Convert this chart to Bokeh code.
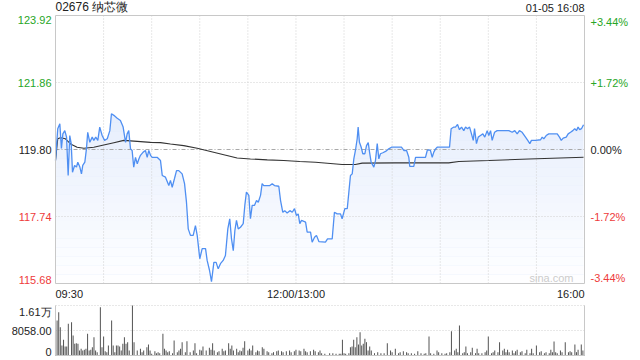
from bokeh.plotting import figure
from bokeh.models import Range1d
from bokeh.core.properties import value
from bokeh.embed import file_html
from bokeh.resources import INLINE
import numpy as np

FONT = "Liberation Sans"
RED = "#ee3b3b"
GREEN = "#27a627"
TXT = "#222222"
GRID = "#d0d0d0"
BORDER = "#c8c8c8"

# ---------------- data ----------------
title_text = "02676 纳芯微"
date_text = "01-05 16:08"
prev_close = 119.80
price_lo, price_hi = 115.68, 123.92

# trading minutes since 09:30 (lunch break removed: 150 = 12:00/13:00, 330 = 16:00)
price_t = [
    0, 1.4, 2.7, 3.7, 4.6, 5.8, 6.9, 7.9, 8.9, 9.8,
    10.6, 11.9, 13.1, 13.9, 15.2, 16.2, 17.0, 18.3, 19.3, 20.1,
    21.4, 22.9, 23.9, 25.1, 26.4, 27.6, 29.1, 30.6, 32.3, 33.9,
    34.9, 36.4, 38.5, 40.5, 42.2, 43.7, 44.7, 45.7, 46.8, 47.8,
    48.8, 49.9, 51.0, 52.0, 53.0, 54.7, 56.1, 57.2, 58.2, 59.3,
    60.3, 63.4, 65.5, 66.6, 68.6, 70.7, 71.7, 72.8, 74.2, 75.5,
    76.9, 79.0, 80.5, 81.7, 82.8, 84.2, 85.9, 87.3, 88.4, 90.0,
    91.5, 93.6, 94.6, 96.1, 97.3, 98.8, 100.2, 101.5, 102.9, 104.6,
    106.0, 107.5, 108.7, 109.8, 110.9, 111.9, 112.9, 114.0, 115.4, 117.1,
    118.1, 119.1, 120.6, 121.6, 122.7, 124.1, 125.4, 126.5, 127.9, 128.9,
    129.9, 133.7, 135.2, 136.6, 139.3, 140.4, 141.8, 143.0, 144.5, 146.2,
    147.7, 149.1, 150.3, 151.4, 152.4, 153.5, 156.0, 157.0, 159.1, 160.1,
    161.6, 162.8, 164.3, 168.4, 169.7, 172.6, 174.0, 175.7, 177.8, 178.8,
    180.5, 182.0, 183.0, 184.0, 185.1, 186.1, 187.1, 188.2, 188.8, 189.6,
    190.7, 191.7, 193.0, 194.0, 195.1, 195.9, 196.9, 198.6, 199.6, 200.7,
    201.7, 202.7, 204.2, 205.9, 207.9, 209.6, 215.8, 217.3, 219.0, 220.4,
    221.0, 223.5, 224.6, 230.8, 231.9, 232.9, 233.9, 235.0, 236.0, 237.1,
    238.1, 245.8, 246.8, 248.5, 249.5, 250.8, 252.0, 253.3, 254.7, 255.8,
    257.0, 258.3, 259.5, 260.6, 261.4, 262.6, 263.7, 265.1, 266.6, 267.8,
    269.3, 270.3, 271.4, 272.4, 273.9, 275.5, 282.8, 284.9, 286.5, 288.0,
    289.4, 291.1, 293.2, 294.6, 295.9, 296.9, 299.4, 302.6, 303.6, 304.6,
    306.1, 307.7, 313.0, 314.4, 315.5, 316.7, 318.6, 319.8, 321.3, 322.7,
    323.9, 325.0, 326.0, 327.0, 328.1, 329.4,
]
price_v = [
    119.46, 120.44, 120.59, 119.83, 120.28, 120.38, 120.18, 119.00, 120.23, 119.98,
    119.10, 119.31, 119.26, 119.41, 119.26, 119.05, 119.31, 119.41, 119.82, 120.33,
    120.02, 120.18, 120.08, 120.18, 120.08, 120.49, 120.23, 120.08, 120.13, 120.38,
    120.90, 120.85, 120.76, 120.69, 120.49, 120.02, 120.28, 120.38, 119.82, 119.77,
    119.26, 119.56, 119.36, 119.51, 119.62, 119.72, 119.77, 119.56, 119.77, 119.62,
    119.56, 119.56, 119.46, 119.00, 118.95, 118.69, 118.85, 118.64, 118.90, 119.15,
    119.15, 119.05, 118.75, 118.18, 117.36, 117.16, 117.16, 117.46, 117.16, 116.44,
    116.75, 116.75, 116.39, 116.08, 115.74, 116.33, 116.33, 116.13, 116.29, 116.39,
    116.54, 117.36, 117.67, 117.05, 116.69, 117.31, 117.62, 117.36, 117.41, 117.52,
    118.08, 118.49, 118.39, 117.67, 118.08, 118.08, 118.23, 118.18, 118.39, 118.75,
    118.69, 118.69, 118.75, 118.69, 118.67, 118.23, 117.87, 117.92, 117.85, 117.92,
    117.87, 117.98, 117.77, 117.82, 117.52, 117.62, 117.57, 117.26, 117.26, 116.95,
    117.10, 117.16, 116.97, 116.95, 117.05, 117.05, 117.87, 117.82, 117.82, 117.67,
    117.98, 117.98, 118.49, 119.00, 119.05, 119.51, 119.77, 120.13, 120.49, 120.02,
    119.87, 119.67, 119.67, 119.92, 120.01, 119.72, 119.41, 119.26, 119.46, 119.98,
    119.51, 119.67, 119.70, 119.74, 119.82, 119.87, 119.87, 119.77, 119.77, 119.56,
    119.28, 119.28, 119.56, 119.56, 119.77, 119.79, 119.77, 119.56, 119.72, 119.82,
    119.87, 119.87, 120.44, 120.49, 120.49, 120.57, 120.41, 120.49, 120.38, 120.49,
    120.44, 120.49, 120.28, 120.08, 120.44, 119.98, 120.18, 120.23, 120.28, 120.18,
    120.38, 120.23, 120.38, 120.08, 120.33, 120.38, 120.38, 120.33, 120.38, 120.28,
    120.38, 120.33, 120.18, 120.08, 119.98, 120.08, 120.08, 120.10, 120.18, 120.13,
    120.23, 120.28, 120.28, 120.18, 120.08, 120.15, 120.18, 120.28, 120.33, 120.38,
    120.44, 120.38, 120.49, 120.41, 120.44, 120.56,
]

avg_t = [0, 1.4, 3.1, 6.2, 9.4, 13.5, 17.7, 23.9, 30.1, 36.4, 42.6, 51.0, 59.3, 65.5,
         71.7, 80.0, 88.4, 96.7, 105.0, 113.3, 121.6, 132.1, 142.4, 152.4, 162.2,
         178.8, 187.1, 191.3, 212.1, 245.3, 251.6, 270.3, 295.3, 329.4]
avg_v = [119.46, 120.13, 120.16, 120.13, 119.97, 119.87, 119.84, 119.87, 119.94, 120.01,
         120.08, 120.05, 120.02, 120.01, 119.97, 119.92, 119.84, 119.74, 119.64, 119.54,
         119.51, 119.48, 119.46, 119.43, 119.41, 119.34, 119.34, 119.38, 119.39, 119.39,
         119.43, 119.46, 119.51, 119.56]

vol_t = [
    0, 1, 2, 3, 4, 5, 6, 7, 8, 10, 11, 12, 13, 14, 15, 16, 17, 18, 19, 20,
    21, 22, 23, 24, 25, 26, 28, 29, 30, 31, 32, 33, 35, 36, 37, 38, 39, 40, 41, 42,
    43, 44, 45, 46, 48, 49, 51, 53, 54, 55, 57, 58, 59, 60, 62, 63, 64, 65, 67, 68,
    69, 70, 71, 73, 74, 76, 77, 78, 79, 81, 82, 84, 86, 87, 88, 90, 91, 92, 94, 96,
    97, 98, 99, 101, 102, 104, 105, 106, 108, 109, 110, 111, 113, 114, 115, 116, 117, 118, 120, 121,
    122, 123, 125, 126, 127, 129, 130, 132, 133, 135, 136, 138, 139, 141, 142, 144, 146, 147, 149, 150,
    152, 153, 155, 156, 157, 159, 161, 162, 164, 165,
    166, 168, 171, 173, 175, 177, 178, 179, 180, 181, 183, 184, 185, 186, 187, 188, 189, 190, 191, 192,
    193, 194, 195, 196, 197, 199, 201, 203, 205, 207, 209, 210, 212, 214, 215, 217, 219, 220, 222, 224,
    226, 228, 230, 231, 233, 234, 236, 238, 239, 241, 243, 244, 246, 247, 249, 250, 251, 252, 254, 255,
    256, 257, 259, 260, 262, 263, 264, 266, 268, 269, 270, 272, 273, 274, 276, 277, 279, 280, 281, 282,
    283, 285, 286, 287, 288, 290, 291, 293, 294, 296, 297, 298, 300, 302, 303, 305, 306, 308, 309, 310,
    311, 312, 313, 315, 316, 318, 320, 321, 322, 324, 325, 326, 328, 329, 330,
]
vol_v = [
    8058, 11281, 13966, 9132, 3223, 5049, 2901, 2901, 10206, 10744, 6446, 3760, 3975, 3760, 1612, 2149, 1612, 1826, 2149, 6983,
    1612, 1826, 2686, 5909, 1612, 1074, 15580, 2686, 6124, 1397, 1074, 3223, 11281, 3223, 1074, 3223, 3223, 2901, 1612, 3760,
    5909, 3760, 4297, 1612, 16116, 4297, 1612, 2149, 1074, 1612, 2686, 3545, 1612, 537, 1397, 752, 1074, 752, 6983, 2149,
    1612, 1074, 1397, 752, 4835, 1074, 1612, 2149, 4297, 1074, 4620, 1074, 1612, 3975, 752, 1826, 1612, 2901, 1612, 2471,
    1826, 3975, 1612, 1074, 1397, 2149, 1397, 1612, 3975, 2149, 3223, 1612, 2149, 1074, 1612, 1397, 2471, 4620, 1612, 2149,
    1612, 3223, 1074, 1612, 1397, 2686, 2149, 1397, 1074, 752, 1074, 1397, 1612, 1397, 1074, 1397, 1612, 1074, 1397, 1826,
    1612, 1397, 2149, 1397, 1074, 1397, 1826, 1397, 1074, 1612,
    752, 537, 752, 752, 537, 537, 537, 5049, 752, 537, 752, 2686, 2901, 5049, 2686, 5909, 3545, 7521, 3223, 3760,
    5372, 4297, 1612, 2901, 1612, 752, 1074, 752, 752, 3975, 1612, 1074, 2149, 752, 1074, 1397, 1074, 752, 752, 537,
    1397, 752, 537, 752, 6124, 752, 537, 1612, 1074, 752, 537, 752, 1074, 7843, 1612, 2149, 1074, 9670, 752, 1074,
    2901, 752, 1074, 2471, 752, 2149, 752, 752, 1074, 1612, 6124, 752, 1074, 1612, 1074, 4297, 1612, 2149, 1074, 1826,
    1074, 1612, 752, 1397, 1826, 1074, 1397, 752, 1826, 752, 2149, 752, 3223, 1074, 1397, 752, 1074, 752, 1826, 1074,
    4512, 1074, 752, 1612, 1074, 4297, 1074, 1397, 1074, 3545, 1074, 1826, 3545, 1612, 2149,
]

price_ticks = [115.68, 117.74, 119.80, 121.86, 123.92]
price_tick_labels = ["115.68", "117.74", "119.80", "121.86", "123.92"]
pct_tick_labels = ["-3.44%", "-1.72%", "0.00%", "+1.72%", "+3.44%"]
tick_colors = [RED, RED, TXT, GREEN, GREEN]
vol_max = 16116
vol_ticks = [0, 8058, 16116]
vol_tick_labels = ["0", "8058.00", "1.61万"]
time_ticks = [0, 150, 330]
time_tick_labels = ["09:30", "12:00/13:00", "16:00"]
grid_times = [30, 60, 90, 120, 150, 180, 210, 240, 270, 300]

T0, T1 = 0, 330
n = min(len(price_t), len(price_v))
price_t, price_v = price_t[:n], price_v[:n]
m = min(len(vol_t), len(vol_v))
vol_t, vol_v = vol_t[:m], vol_v[:m]

# ---------------- layout (pixels on the 640x360 canvas) ----------------
W, H = 640, 360
PX0, PX1 = 55, 584          # chart area left / right
PY_TOP, PY_BOT = 15, 283    # price panel top / bottom
VY_TOP, VY_BOT = 305, 355   # volume panel top / bottom

kx = (T1 - T0) / (PX1 - PX0)
ky = (price_hi - price_lo) / (PY_BOT - PY_TOP)
kv = vol_max / (VY_BOT - VY_TOP)

p = figure(width=W, height=H,
           x_range=Range1d(T0 - PX0 * kx, T1 + (W - PX1) * kx),
           y_range=Range1d(price_lo - (H - PY_BOT) * ky, price_hi + PY_TOP * ky),
           output_backend="svg", toolbar_location=None,
           x_axis_location=None, y_axis_location=None,
           min_border=0, min_border_left=0, min_border_right=0, min_border_top=0, min_border_bottom=0,
           outline_line_color=None, background_fill_color="white", border_fill_color="white")
p.extra_y_ranges = {"vol": Range1d(0 - (H - VY_BOT) * kv, vol_max + VY_TOP * kv)}
p.grid.visible = False

# ---- price panel ----
p.varea(x=price_t, y1=price_v, y2=price_lo, fill_color="#dae5fb", fill_alpha=1.0)
nb = 30
edges = np.linspace(price_hi, price_lo, nb + 1)
alphas = np.linspace(0.0, 0.96, nb)
p.quad(left=T0, right=T1, top=edges[:-1], bottom=edges[1:], fill_color="white",
       fill_alpha=alphas, line_color=None)

# grid
p.segment(x0=grid_times, y0=price_lo, x1=grid_times, y1=price_hi,
          line_color=GRID, line_dash="1 2", line_width=1)
p.segment(x0=T0, y0=[price_ticks[1], price_ticks[3]], x1=T1, y1=[price_ticks[1], price_ticks[3]],
          line_color=GRID, line_dash="1 2", line_width=1)
p.segment(x0=T0, y0=prev_close, x1=T1, y1=prev_close,
          line_color="#a8a8a8", line_dash="4 2 1 2", line_width=1)

p.line(avg_t, avg_v, line_color="#333333", line_width=1.1)
p.line(price_t, price_v, line_color="#4f8ff2", line_width=1.3)

# frame
p.quad(left=T0, right=T1, bottom=price_lo, top=price_hi, fill_color=None,
       line_color=BORDER, line_width=1)

# ---- volume panel ----
p.segment(x0=T0, y0=vol_ticks[1:], x1=T1, y1=vol_ticks[1:], y_range_name="vol",
          line_color=GRID, line_dash="1 2", line_width=1)
p.vbar(x=vol_t, top=vol_v, bottom=0, width=0.65, y_range_name="vol",
       fill_color="#5a5a5a", line_color=None)
p.segment(x0=[T0, T1], y0=0, x1=[T0, T1], y1=vol_max, y_range_name="vol",
          line_color=BORDER, line_width=1)
p.segment(x0=T0, y0=0, x1=T1, y1=0, y_range_name="vol", line_color=BORDER, line_width=1)

# ---- texts ----
F = value(FONT)
last = len(price_ticks) - 1
for i, (tv, lab, pct, col) in enumerate(zip(price_ticks, price_tick_labels, pct_tick_labels, tick_colors)):
    base = "bottom" if i == 0 else ("top" if i == last else "middle")
    p.text(x=[T0], y=[tv], text=[lab], x_offset=-4, text_align="right", text_baseline=base,
           text_font=F, text_font_size="11px", text_color=col)
    p.text(x=[T1], y=[tv], text=[pct], x_offset=6, text_align="left", text_baseline=base,
           text_font=F, text_font_size="11px", text_color=col)

for tv, lab, al in zip(time_ticks, time_tick_labels, ["left", "center", "right"]):
    p.text(x=[tv], y=[price_lo], text=[lab], y_offset=4, text_align=al, text_baseline="top",
           text_font=F, text_font_size="11px", text_color=TXT)

p.text(x=[T0], y=[price_hi], text=[title_text], y_offset=-2, text_align="left", text_baseline="bottom",
       text_font=F, text_font_size="12px", text_color=TXT)
p.text(x=[T1], y=[price_hi], text=[date_text], y_offset=-2, text_align="right", text_baseline="bottom",
       text_font=F, text_font_size="11px", text_color=TXT)
p.text(x=[T1], y=[price_lo], text=["sina.com"], x_offset=-11, text_align="right", text_baseline="bottom",
       text_font=F, text_font_size="11px", text_color="#cccccc")

lastv = len(vol_ticks) - 1
for i, (tv, lab) in enumerate(zip(vol_ticks, vol_tick_labels)):
    base = "bottom" if i == 0 else ("top" if i == lastv else "middle")
    p.text(x=[T0], y=[tv], text=[lab], x_offset=-4, y_range_name="vol", text_align="right",
           text_baseline=base, text_font=F, text_font_size="11px", text_color=TXT)

open("out.html", "w").write(file_html(p, INLINE))
